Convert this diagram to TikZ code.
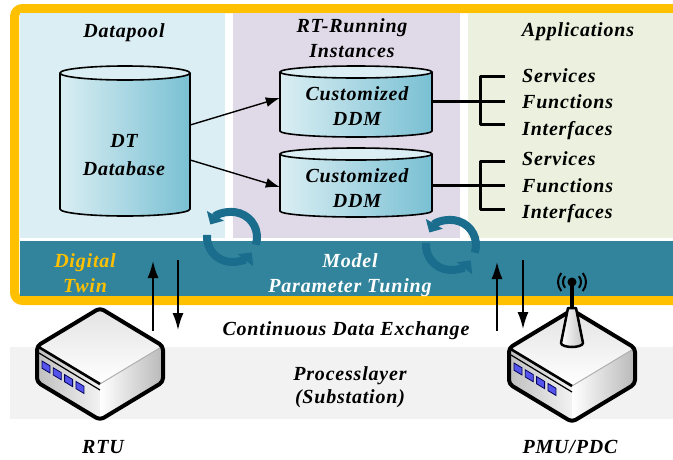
\documentclass[tikz,border=0pt]{standalone}
\usepackage{fontspec}
\setmainfont{Liberation Serif}[LetterSpace=4]
\usetikzlibrary{arrows.meta,positioning,calc}

\definecolor{frameyellow}{HTML}{FFC000}
\definecolor{poolblue}{HTML}{DAEEF3}
\definecolor{rtlilac}{HTML}{E0DAE8}
\definecolor{appgreen}{HTML}{EBF1DE}
\definecolor{twinteal}{HTML}{31849B}
\definecolor{procgray}{HTML}{F2F2F2}
\definecolor{drumdark}{HTML}{79C0D3}
\definecolor{spinblue}{HTML}{1B6D8E}
\definecolor{ledblue}{HTML}{5555EE}

% drum: centre x, top y, bottom y, half width, half height of the ends
\newcommand\drum[5]{%
  \fill[left color=poolblue, right color=drumdark] ({#1-#4},#2) -- ({#1-#4},#3)
    arc[start angle=180, end angle=0, x radius=#4, y radius=#5] -- ({#1+#4},#2) -- cycle;
  \filldraw[fill=poolblue, line width=1.6pt] (#1,#2) ellipse[x radius=#4, y radius=#5];
  \draw[line width=1.6pt] ({#1-#4},#2) -- ({#1-#4},#3)
    arc[start angle=180, end angle=0, x radius=#4, y radius=#5] -- ({#1+#4},#2);
}

% field device box, drawn around (100,364)
\newcommand\fieldbox{%
  \fill[top color=gray!22, bottom color=white] (100,308) -- (163,346) -- (100,384) -- (37,346) -- cycle;
  \fill[left color=gray!50, right color=gray!10] (37,346) -- (100,384) -- (100,420) -- (37,382) -- cycle;
  \fill[left color=white, right color=gray!55] (100,384) -- (163,346) -- (163,382) -- (100,420) -- cycle;
  \draw[gray!60, line width=1pt] (100,384) -- (163,346);
  \draw[line width=1.2pt] (39,353) -- (100,390);
  \foreach \i in {0,...,3}
    \filldraw[fill=ledblue, draw=blue!35!black, line width=0.8pt]
      ({42+11.3*\i},{361+6.8*\i}) -- ++(8,4.8) -- ++(0,7.2) -- ++(-8,-4.8) -- cycle;
  \draw[line width=2.6pt] (37,346) -- (100,384);
  \draw[line width=4pt, line join=round, rounded corners=4pt]
    (100,308) -- (163,346) -- (163,382) -- (100,420) -- (37,382) -- (37,346) -- cycle;
}

\begin{document}
\begin{tikzpicture}[x=1pt, y=-1pt,
    txt/.style={font=\fontsize{20}{25}\selectfont\bfseries\itshape, align=center, inner sep=0pt, anchor=base},
    holder/.style={inner sep=0pt},
    flow/.style={-{Latex[length=14pt,width=10pt]}, line width=1.4pt},
    xchg/.style={-{Latex[length=17pt,width=11pt]}, line width=1.6pt},
    brace/.style={line width=3pt, line join=round},
    spin/.style={spinblue, line width=8pt, -{Triangle[length=10pt,width=19pt]}}]

    \clip (0,0) rectangle (673,459);

    % process layer and digital twin frame
    \fill[procgray] (10,347) rectangle (673,419);
    \draw[frameyellow, line width=9pt, rounded corners=8pt, fill=white] (14.5,8.5) rectangle (684,300.5);
    \fill[poolblue] (20,13) rectangle (225,238);
    \fill[rtlilac] (233,13) rectangle (460,238);
    \fill[appgreen] (468,13) rectangle (673,238);
    \fill[twinteal] (20,241) rectangle (673,296);

    \node[txt] (pooltitle) at (124,37) {Datapool};
    \node[txt] (rttitle) at (352,57) {RT-Running\\Instances};
    \node[txt] (apptitle) at (578,36) {Applications};

    % databases
    \drum{125}{73}{209}{65}{7}
    \drum{356}{72}{131}{76}{6}
    \drum{356}{154}{211}{76}{6}
    \node[holder, minimum width=130, minimum height=150] (db) at (125,141) {};
    \node[holder, minimum width=152, minimum height=71] (ddm1) at (356,101.5) {};
    \node[holder, minimum width=152, minimum height=69] (ddm2) at (356,182.5) {};
    \node[txt, font=\fontsize{20}{28}\selectfont\bfseries\itshape] (dbtext) at (124,175) {DT\\Database};
    \node[txt] (ddm1text) at (357,125) {Customized\\DDM};
    \node[txt] (ddm2text) at (357,207) {Customized\\DDM};

    \draw[flow] ([yshift=16pt]db.east) -- ([yshift=3.5pt]ddm1.west);
    \draw[flow] ([yshift=-19pt]db.east) -- ([yshift=-4.5pt]ddm2.west);

    % application lists
    \node[txt, anchor=base west] (svc1) at (522,82) {Services};
    \node[txt, anchor=base west] (fun1) at (522,108) {Functions};
    \node[txt, anchor=base west] (ifc1) at (522,135) {Interfaces};
    \node[txt, anchor=base west] (svc2) at (522,165) {Services};
    \node[txt, anchor=base west] (fun2) at (522,192) {Functions};
    \node[txt, anchor=base west] (ifc2) at (522,218) {Interfaces};

    \draw[brace] (ddm1.east) -- ++(73,0);
    \draw[brace] ($(ddm1.east)+(73,-25)$) -- ++(-25,0) -- ++(0,48) -- ++(25,0);
    \draw[brace] ([yshift=-2.5pt]ddm2.east) -- ++(73,0);
    \draw[brace] ($(ddm2.east)+(73,-21.5)$) -- ++(-25,0) -- ++(0,48) -- ++(25,0);

    % tuning loops
    \foreach \cx/\cy in {232/237, 451/245} {
      \draw[spin] (\cx,\cy) ++(18:25) arc[start angle=18, end angle=-150, radius=25];
      \draw[spin] (\cx,\cy) ++(-175:25) arc[start angle=-175, end angle=-322, radius=25];
    }

    \node[txt, text=frameyellow] (twinname) at (85,292) {Digital\\Twin};
    \node[txt, text=white] (tuning) at (350,292) {Model\\Parameter Tuning};
    \node[txt] (exchange) at (346,335) {Continuous Data Exchange};
    \node[txt, font=\fontsize{20}{23}\selectfont\bfseries\itshape] (process) at (350,403) {Processlayer\\(Substation)};

    % field devices
    \fieldbox
    \begin{scope}[shift={(472,2)}]
      \fieldbox
      \filldraw[left color=white, right color=gray!45, line width=2.5pt, line join=round]
        (89,341) -- (96,306) -- (104,306) -- (111,341)
        arc[start angle=0, end angle=180, x radius=11, y radius=4] -- cycle;
      \draw[line width=4pt] (100,306) -- (100,282);
      \fill (100,280) circle[radius=4.5];
      \foreach \r in {9,14} {
        \draw[line width=2pt] (100,280) ++(-40:\r) arc[start angle=-40, end angle=40, radius=\r];
        \draw[line width=2pt] (100,280) ++(140:\r) arc[start angle=140, end angle=220, radius=\r];
      }
    \end{scope}
    \node[txt] (rtu) at (103,453) {RTU};
    \node[txt] (pmu) at (570,453) {PMU/PDC};

    \coordinate (rtuTx) at (153,331);
    \coordinate (twinRx) at (153,261);
    \coordinate (twinTx) at (178,260);
    \coordinate (rtuRx) at (178,330);
    \coordinate (pmuTx) at (497,331);
    \coordinate (twinRx2) at (497,262);
    \coordinate (twinTx2) at (523,260);
    \coordinate (pmuRx) at (523,329);
    \draw[xchg] (rtuTx) -- (twinRx);
    \draw[xchg] (twinTx) -- (rtuRx);
    \draw[xchg] (pmuTx) -- (twinRx2);
    \draw[xchg] (twinTx2) -- (pmuRx);
\end{tikzpicture}
\end{document}
